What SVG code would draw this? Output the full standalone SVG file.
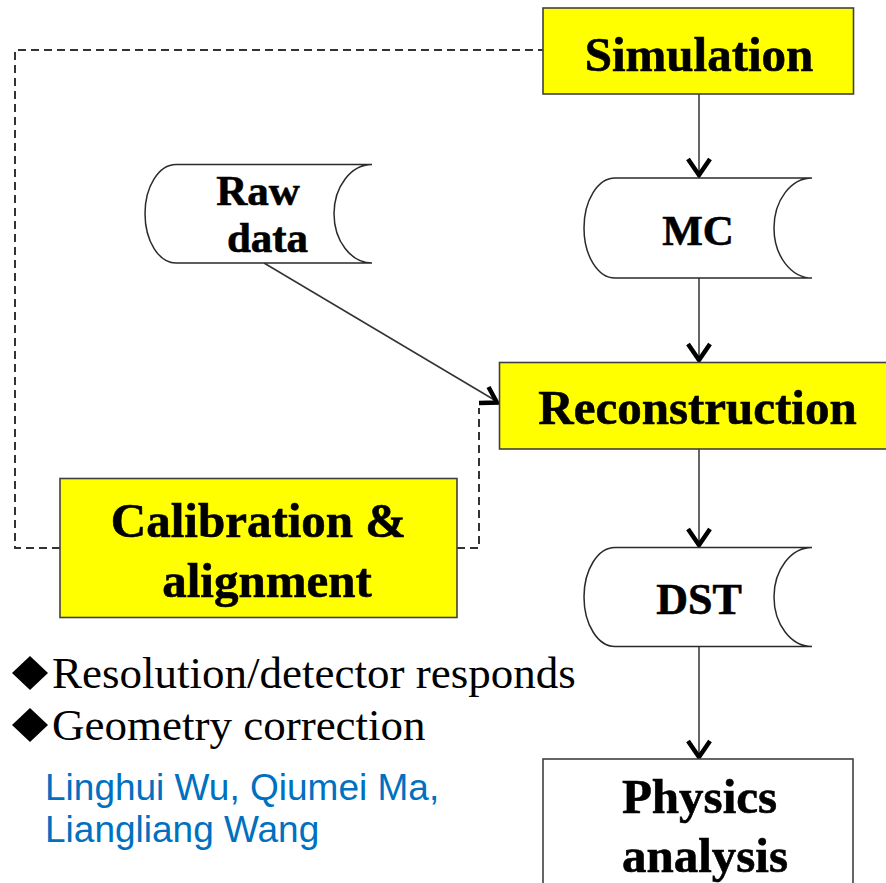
<svg xmlns="http://www.w3.org/2000/svg" width="886" height="883" viewBox="0 0 886 883">
  <style>
    .box { fill: #FFFF00; stroke: #404040; stroke-width: 1.6; }
    .plain { fill: #FFFFFF; stroke: #404040; stroke-width: 1.6; }
    .store { fill: #FFFFFF; stroke: #2a2a2a; stroke-width: 1.5; }
    .label { font-family: "Liberation Serif", "Times New Roman", serif; font-weight: bold; fill: #000000; text-anchor: middle; stroke: #000000; stroke-width: 0.6; }
    .bullet { font-family: "Liberation Serif", "Times New Roman", serif; font-size: 45px; fill: #000000; }
    .author { font-family: "Liberation Sans", Arial, sans-serif; font-size: 37px; fill: #0070C0; }
    .flow { fill: none; stroke: #333333; stroke-width: 1.5; }
    .dash { fill: none; stroke: #333333; stroke-width: 2; stroke-dasharray: 8 5; }
    .head { fill: none; stroke: #000000; stroke-width: 4.5; stroke-linejoin: miter; stroke-miterlimit: 6; }
  </style>

  <rect width="886" height="883" fill="#FFFFFF"/>

  <!-- connectors -->
  <g id="connectors">
    <!-- calibration feedback loops (dashed) -->
    <path class="dash" d="M60,548 H15 V50 H543"/>
    <path class="dash" d="M457,548 H479 V408"/>
    <!-- main flow -->
    <line class="flow" x1="699" y1="94" x2="699" y2="176"/>
    <line class="flow" x1="699" y1="278" x2="699" y2="360"/>
    <line class="flow" x1="699" y1="449" x2="699" y2="545"/>
    <line class="flow" x1="699" y1="646.5" x2="699" y2="757"/>
    <line class="flow" x1="264" y1="263" x2="497" y2="401.5"/>
    <!-- open chevron heads -->
    <path class="head" d="M688,159 L699,175 L710,159"/>
    <path class="head" d="M688,344 L699,360 L710,344"/>
    <path class="head" d="M688,529 L699,545 L710,529"/>
    <path class="head" d="M688,741 L699,757 L710,741"/>
    <path class="head" d="M479,403 L497,402.5 L488.5,387"/>
  </g>

  <!-- nodes -->
  <g id="simulation">
    <rect class="box" x="543" y="8" width="310.5" height="86"/>
    <text class="label" x="699" y="71" font-size="49">Simulation</text>
  </g>

  <g id="mc">
    <path class="store" d="M615,178 H812 A38,50 0 0 0 812,278 H615 A31,50 0 0 1 615,178 Z"/>
    <text class="label" x="698" y="245" font-size="43">MC</text>
  </g>

  <g id="raw-data">
    <path class="store" d="M176,164.5 H372 A38,49.25 0 0 0 372,263 H176 A31,49.25 0 0 1 176,164.5 Z"/>
    <text class="label" x="258" y="205" font-size="43">Raw</text>
    <text class="label" x="267.5" y="252" font-size="43">data</text>
  </g>

  <g id="reconstruction">
    <rect class="box" x="499.5" y="362.5" width="400" height="86.5"/>
    <text class="label" x="697.5" y="424" font-size="49">Reconstruction</text>
  </g>

  <g id="dst">
    <path class="store" d="M615,547.5 H812 A38,49.5 0 0 0 812,646.5 H615 A31,49.5 0 0 1 615,547.5 Z"/>
    <text class="label" x="699" y="614" font-size="44">DST</text>
  </g>

  <g id="calibration">
    <rect class="box" x="60" y="478.5" width="397" height="139"/>
    <text class="label" x="258.5" y="537" font-size="49">Calibration &amp;</text>
    <text class="label" x="267" y="597" font-size="49">alignment</text>
  </g>

  <g id="physics">
    <rect class="plain" x="543" y="759" width="310" height="140"/>
    <text class="label" x="699.5" y="813" font-size="49">Physics</text>
    <text class="label" x="705" y="872" font-size="49">analysis</text>
  </g>

  <!-- calibration notes -->
  <g id="notes">
    <polygon points="30,656 48,673 30,690 12,673" fill="#000000"/>
    <text class="bullet" x="52" y="688">Resolution/detector responds</text>
    <polygon points="30,708 48,725 30,742 12,725" fill="#000000"/>
    <text class="bullet" x="52" y="740">Geometry correction</text>
  </g>

  <g id="authors">
    <text class="author" x="45" y="800">Linghui Wu, Qiumei Ma,</text>
    <text class="author" x="45" y="842">Liangliang Wang</text>
  </g>
</svg>
